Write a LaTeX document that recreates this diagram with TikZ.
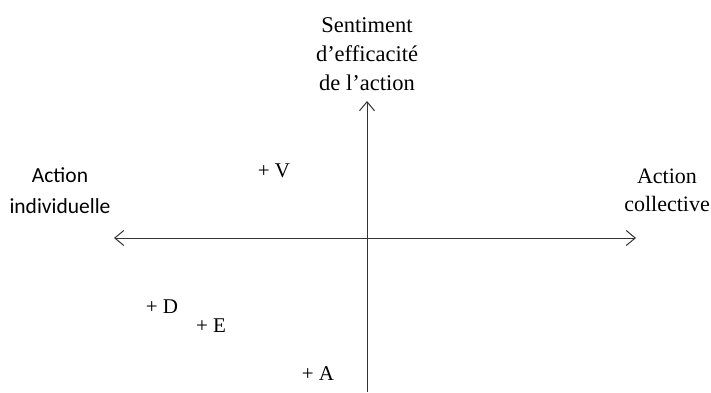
\documentclass[tikz,border=0pt]{standalone}
\usepackage{fontspec}
\setmainfont{Liberation Serif}
\newfontfamily\calibrifont{Carlito}
\usetikzlibrary{arrows.meta}

\begin{document}
\begin{tikzpicture}[
  x=1pt,y=-1pt,
  every node/.style={inner sep=0pt,font=\fontsize{21}{29}\selectfont},
  axis/.style={draw=black!80,line width=1pt,
    {Straight Barb[length=9pt,width=15pt]}-{Straight Barb[length=9pt,width=15pt]}},
  label/.style={align=center,anchor=base},
  point/.style={anchor=base}
]
  \useasboundingbox (0,0) rectangle (711,392);

  % axes
  \coordinate (west) at (114,238);
  \coordinate (east) at (636,238);
  \coordinate (north) at (367,101);
  \coordinate (south) at (367,392);
  \draw[axis] (west) -- (east);
  \draw[axis,{Straight Barb[length=9pt,width=15pt]}-] (north) -- (south);

  % axis labels (base = last line)
  \node[label,font=\fontsize{22.5}{29}\selectfont] (efficacite) at (367,90) {Sentiment\\d’efficacité\\de l’action};
  \node[label,font=\calibrifont\fontsize{21.5}{31}\selectfont] (individuelle) at (60,213) {Action\\individuelle};
  \node[label,font=\fontsize{22}{28}\selectfont] (collective) at (667,211) {Action\\collective};

  % positions
  \node[point] (V) at (274,177) {+ V};
  \node[point] (D) at (162,313) {+ D};
  \node[point] (E) at (211,332) {+ E};
  \node[point] (A) at (318,380) {+ A};
\end{tikzpicture}
\end{document}
